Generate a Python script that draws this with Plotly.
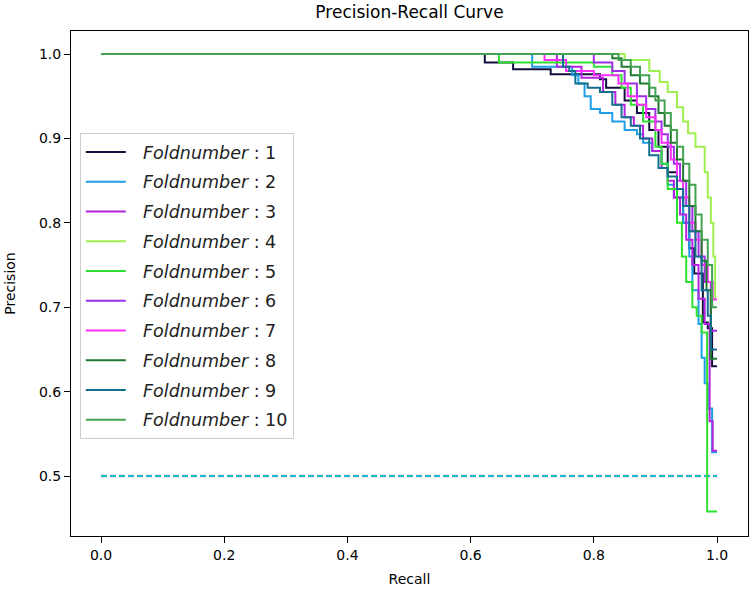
import plotly.graph_objects as go

# Step breakpoints per fold: at recall r the precision drops to p
fold_recall = {
    1: [0.0, 0.623, 0.669, 0.73, 0.81, 0.82, 0.85, 0.87, 0.89, 0.905, 0.92, 0.935, 0.945, 0.955, 0.963, 0.977, 0.985, 0.992, 1.0],
    2: [0.0, 0.70, 0.765, 0.775, 0.785, 0.795, 0.81, 0.83, 0.85, 0.87, 0.88, 0.895, 0.91, 0.92, 0.93, 0.945, 0.955, 0.96, 0.97, 0.975, 0.98, 0.985, 0.992, 1.0],
    3: [0.0, 0.74, 0.78, 0.815, 0.835, 0.85, 0.865, 0.88, 0.895, 0.91, 0.92, 0.93, 0.94, 0.95, 0.96, 0.97, 0.98, 0.988, 0.993, 1.0],
    4: [0.0, 0.85, 0.89, 0.907, 0.92, 0.935, 0.945, 0.953, 0.965, 0.98, 0.985, 0.99, 0.994, 0.997, 1.0],
    5: [0.0, 0.646, 0.80, 0.83, 0.845, 0.86, 0.88, 0.90, 0.91, 0.92, 0.935, 0.943, 0.95, 0.96, 0.967, 0.975, 0.984, 1.0],
    6: [0.0, 0.80, 0.83, 0.85, 0.87, 0.885, 0.90, 0.91, 0.92, 0.93, 0.94, 0.95, 0.96, 0.97, 0.98, 0.99, 1.0],
    7: [0.0, 0.72, 0.755, 0.80, 0.84, 0.855, 0.87, 0.885, 0.90, 0.91, 0.925, 0.935, 0.945, 0.955, 0.965, 0.975, 0.985, 0.993, 1.0],
    8: [0.0, 0.83, 0.845, 0.86, 0.875, 0.89, 0.905, 0.915, 0.925, 0.935, 0.945, 0.955, 0.965, 0.975, 0.983, 0.99, 1.0],
    9: [0.0, 0.75, 0.76, 0.77, 0.79, 0.81, 0.83, 0.845, 0.86, 0.875, 0.89, 0.905, 0.92, 0.935, 0.945, 0.955, 0.965, 0.975, 0.985, 0.99, 1.0],
    10: [0.0, 0.84, 0.86, 0.875, 0.89, 0.90, 0.915, 0.925, 0.935, 0.945, 0.955, 0.965, 0.975, 0.985, 0.992, 1.0],
}
fold_precision = {
    1: [1.0, 0.99, 0.982, 0.976, 0.97, 0.96, 0.945, 0.93, 0.91, 0.89, 0.86, 0.83, 0.80, 0.77, 0.74, 0.682, 0.675, 0.63, 0.63],
    2: [1.0, 0.985, 0.975, 0.965, 0.95, 0.935, 0.93, 0.92, 0.91, 0.905, 0.895, 0.885, 0.87, 0.845, 0.83, 0.80, 0.76, 0.72, 0.68, 0.64, 0.61, 0.58, 0.528, 0.528],
    3: [1.0, 0.985, 0.972, 0.955, 0.94, 0.925, 0.915, 0.90, 0.885, 0.865, 0.85, 0.83, 0.81, 0.78, 0.75, 0.71, 0.68, 0.565, 0.53, 0.53],
    4: [1.0, 0.993, 0.98, 0.967, 0.955, 0.937, 0.92, 0.906, 0.89, 0.86, 0.83, 0.80, 0.76, 0.71, 0.71],
    5: [1.0, 0.99, 0.985, 0.975, 0.96, 0.94, 0.92, 0.89, 0.87, 0.84, 0.80, 0.76, 0.73, 0.70, 0.69, 0.67, 0.458, 0.458],
    6: [1.0, 0.99, 0.98, 0.965, 0.95, 0.935, 0.92, 0.905, 0.89, 0.87, 0.85, 0.82, 0.79, 0.76, 0.73, 0.672, 0.672],
    7: [1.0, 0.993, 0.98, 0.975, 0.965, 0.95, 0.94, 0.925, 0.91, 0.895, 0.875, 0.85, 0.83, 0.80, 0.78, 0.75, 0.73, 0.709, 0.709],
    8: [1.0, 0.995, 0.985, 0.975, 0.965, 0.95, 0.93, 0.915, 0.895, 0.875, 0.85, 0.82, 0.79, 0.755, 0.72, 0.639, 0.639],
    9: [1.0, 0.985, 0.98, 0.965, 0.96, 0.955, 0.94, 0.925, 0.915, 0.90, 0.88, 0.865, 0.855, 0.84, 0.82, 0.79, 0.76, 0.72, 0.69, 0.65, 0.65],
    10: [1.0, 0.993, 0.985, 0.975, 0.96, 0.945, 0.93, 0.91, 0.89, 0.87, 0.845, 0.81, 0.78, 0.75, 0.70, 0.70],
}
fold_colors = {
    1: "#10103f", 2: "#1e9fe8", 3: "#b522e0", 4: "#9ef04e", 5: "#2fdf2f",
    6: "#a12fe6", 7: "#ff2cff", 8: "#1f7a2f", 9: "#12708f", 10: "#43a352",
}
baseline_recall = [0.0, 1.0]
baseline_precision = [0.5, 0.5]

x_ticks = [0.0, 0.2, 0.4, 0.6, 0.8, 1.0]
y_ticks = [0.5, 0.6, 0.7, 0.8, 0.9, 1.0]

fig = go.Figure()

# baselines (no legend)
fig.add_trace(go.Scatter(x=baseline_recall, y=baseline_precision, mode="lines",
                         line=dict(color="#e6c0c0", width=3, dash="6px,3px"),
                         showlegend=False, hoverinfo="skip"))
fig.add_trace(go.Scatter(x=baseline_recall, y=baseline_precision, mode="lines",
                         line=dict(color="#17becf", width=2, dash="6px,3px"),
                         showlegend=False, hoverinfo="skip"))

for k in range(1, 11):
    fig.add_trace(go.Scatter(
        x=fold_recall[k], y=fold_precision[k], mode="lines",
        line=dict(color=fold_colors[k], width=2, shape="hv"),
        name=f"\u2002\u2009<i>Foldnumber</i> : {k}", legendgroup=f"g{k}",
    ))

axis_common = dict(
    showgrid=False, zeroline=False, showline=True, linecolor="black", linewidth=1,
    mirror=True, ticks="outside", ticklen=6, tickwidth=1, tickcolor="black",
    tickfont=dict(size=14, color="black", family="DejaVu Sans"),
)

fig.update_layout(
    width=750, height=590,
    margin=dict(l=71, r=2, t=31, b=54),
    paper_bgcolor="white", plot_bgcolor="white",
    font=dict(family="DejaVu Sans", color="black"),
    title=dict(text="Precision-Recall Curve", x=0.5, xref="paper", xanchor="center",
               y=0.98, yanchor="middle",
               font=dict(size=17, color="black", family="DejaVu Sans")),
    xaxis=dict(range=[-0.0487, 1.0503], tickvals=x_ticks, ticktext=[f"{v:.1f}" for v in x_ticks],
               title=dict(text="Recall", font=dict(size=14), standoff=12), **axis_common),
    yaxis=dict(range=[0.4289, 1.0273], tickvals=y_ticks, ticktext=[f"{v:.1f}" for v in y_ticks],
               title=dict(text="Precision", font=dict(size=14), standoff=20), **axis_common),
    legend=dict(x=0.013, y=0.798, xanchor="left", yanchor="top",
                bgcolor="rgba(255,255,255,0.8)", bordercolor="#cccccc", borderwidth=1,
                font=dict(size=17.5, family="DejaVu Sans", color="#222222"),
                traceorder="grouped", tracegroupgap=4, itemwidth=40),
)

fig.write_html("out.html", config={"displayModeBar": False},
               post_script="document.body.style.margin='0px';")
